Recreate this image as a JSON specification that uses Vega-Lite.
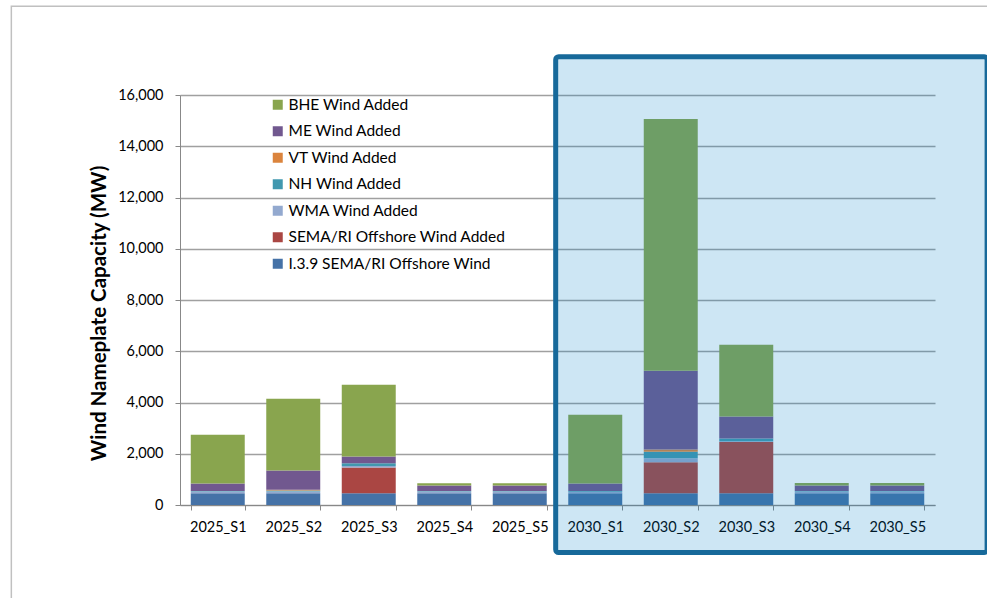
{
  "$schema": "https://vega.github.io/schema/vega-lite/v6.json",
  "width": 755,
  "height": 410,
  "autosize": {"type": "none"},
  "padding": {"left": 180, "top": 95, "right": 52, "bottom": 93},
  "background": "white",
  "config": {
    "font": "Lato",
    "view": {"stroke": null},
    "axisY": {"values": [0, 2000, 4000, 6000, 8000, 10000, 12000, 14000, 16000], "format": ",d", "grid": true, "gridColor": "#a0a0a0", "gridWidth": 1.3, "domainColor": "#888", "tickColor": "#888", "tickSize": 5, "labelFontSize": 14.5, "labelColor": "#000", "labelPadding": 12, "titleFontSize": 20.5, "titleFontWeight": "bold", "titleColor": "#000", "titleX": -81, "titleY": 218, "titleBaseline": "middle"}
  },
  "datasets": {
    "bars": [
      {"s": "2025_S1", "series": "I.3.9 SEMA/RI Offshore Wind", "k": 1, "mw": 460},
      {"s": "2025_S1", "series": "WMA Wind Added", "k": 3, "mw": 70},
      {"s": "2025_S1", "series": "NH Wind Added", "k": 4, "mw": 20},
      {"s": "2025_S1", "series": "ME Wind Added", "k": 6, "mw": 290},
      {"s": "2025_S1", "series": "BHE Wind Added", "k": 7, "mw": 1900},
      {"s": "2025_S2", "series": "I.3.9 SEMA/RI Offshore Wind", "k": 1, "mw": 460},
      {"s": "2025_S2", "series": "WMA Wind Added", "k": 3, "mw": 70},
      {"s": "2025_S2", "series": "NH Wind Added", "k": 4, "mw": 40},
      {"s": "2025_S2", "series": "VT Wind Added", "k": 5, "mw": 30},
      {"s": "2025_S2", "series": "ME Wind Added", "k": 6, "mw": 750},
      {"s": "2025_S2", "series": "BHE Wind Added", "k": 7, "mw": 2800},
      {"s": "2025_S3", "series": "I.3.9 SEMA/RI Offshore Wind", "k": 1, "mw": 460},
      {"s": "2025_S3", "series": "SEMA/RI Offshore Wind Added", "k": 2, "mw": 1000},
      {"s": "2025_S3", "series": "WMA Wind Added", "k": 3, "mw": 60},
      {"s": "2025_S3", "series": "NH Wind Added", "k": 4, "mw": 110},
      {"s": "2025_S3", "series": "ME Wind Added", "k": 6, "mw": 260},
      {"s": "2025_S3", "series": "BHE Wind Added", "k": 7, "mw": 2800},
      {"s": "2025_S4", "series": "I.3.9 SEMA/RI Offshore Wind", "k": 1, "mw": 460},
      {"s": "2025_S4", "series": "WMA Wind Added", "k": 3, "mw": 70},
      {"s": "2025_S4", "series": "NH Wind Added", "k": 4, "mw": 20},
      {"s": "2025_S4", "series": "ME Wind Added", "k": 6, "mw": 210},
      {"s": "2025_S4", "series": "BHE Wind Added", "k": 7, "mw": 90},
      {"s": "2025_S5", "series": "I.3.9 SEMA/RI Offshore Wind", "k": 1, "mw": 460},
      {"s": "2025_S5", "series": "WMA Wind Added", "k": 3, "mw": 70},
      {"s": "2025_S5", "series": "NH Wind Added", "k": 4, "mw": 20},
      {"s": "2025_S5", "series": "ME Wind Added", "k": 6, "mw": 210},
      {"s": "2025_S5", "series": "BHE Wind Added", "k": 7, "mw": 90},
      {"s": "2030_S1", "series": "I.3.9 SEMA/RI Offshore Wind", "k": 1, "mw": 460},
      {"s": "2030_S1", "series": "WMA Wind Added", "k": 3, "mw": 60},
      {"s": "2030_S1", "series": "NH Wind Added", "k": 4, "mw": 30},
      {"s": "2030_S1", "series": "ME Wind Added", "k": 6, "mw": 290},
      {"s": "2030_S1", "series": "BHE Wind Added", "k": 7, "mw": 2680},
      {"s": "2030_S2", "series": "I.3.9 SEMA/RI Offshore Wind", "k": 1, "mw": 460},
      {"s": "2030_S2", "series": "SEMA/RI Offshore Wind Added", "k": 2, "mw": 1210},
      {"s": "2030_S2", "series": "WMA Wind Added", "k": 3, "mw": 150},
      {"s": "2030_S2", "series": "NH Wind Added", "k": 4, "mw": 260},
      {"s": "2030_S2", "series": "VT Wind Added", "k": 5, "mw": 90},
      {"s": "2030_S2", "series": "ME Wind Added", "k": 6, "mw": 3070},
      {"s": "2030_S2", "series": "BHE Wind Added", "k": 7, "mw": 9820},
      {"s": "2030_S3", "series": "I.3.9 SEMA/RI Offshore Wind", "k": 1, "mw": 460},
      {"s": "2030_S3", "series": "SEMA/RI Offshore Wind Added", "k": 2, "mw": 2000},
      {"s": "2030_S3", "series": "WMA Wind Added", "k": 3, "mw": 30},
      {"s": "2030_S3", "series": "NH Wind Added", "k": 4, "mw": 110},
      {"s": "2030_S3", "series": "ME Wind Added", "k": 6, "mw": 850},
      {"s": "2030_S3", "series": "BHE Wind Added", "k": 7, "mw": 2800},
      {"s": "2030_S4", "series": "I.3.9 SEMA/RI Offshore Wind", "k": 1, "mw": 460},
      {"s": "2030_S4", "series": "WMA Wind Added", "k": 3, "mw": 70},
      {"s": "2030_S4", "series": "NH Wind Added", "k": 4, "mw": 20},
      {"s": "2030_S4", "series": "ME Wind Added", "k": 6, "mw": 210},
      {"s": "2030_S4", "series": "BHE Wind Added", "k": 7, "mw": 100},
      {"s": "2030_S5", "series": "I.3.9 SEMA/RI Offshore Wind", "k": 1, "mw": 460},
      {"s": "2030_S5", "series": "WMA Wind Added", "k": 3, "mw": 70},
      {"s": "2030_S5", "series": "NH Wind Added", "k": 4, "mw": 20},
      {"s": "2030_S5", "series": "ME Wind Added", "k": 6, "mw": 210},
      {"s": "2030_S5", "series": "BHE Wind Added", "k": 7, "mw": 100}
    ]
  },
  "layer": [
    {
      "data": {"values": [{"x0": -2.234, "x1": 11, "y0": 19460, "y1": -6000}]},
      "mark": {"type": "rect", "fill": "transparent", "stroke": "#c0c0c0", "strokeWidth": 1.5},
      "encoding": {
        "x": {"field": "x0", "type": "quantitative", "scale": {"domain": [0, 10], "nice": false, "zero": false}, "axis": null},
        "x2": {"field": "x1"},
        "y": {"field": "y0", "type": "quantitative", "scale": {"domain": [0, 16000], "nice": false}, "title": "Wind Nameplate Capacity (MW)"},
        "y2": {"field": "y1"}
      }
    },
    {
      "data": {"name": "bars"},
      "mark": {"type": "bar"},
      "encoding": {
        "x": {
          "field": "s", "type": "nominal", "sort": null,
          "scale": {"paddingInner": 0.285, "paddingOuter": 0.1425},
          "axis": {"title": null, "labelAngle": 0, "labelFontSize": 14.5, "labelColor": "#000", "tickBand": "extent", "ticks": true, "tickSize": 5, "tickColor": "#888", "domainColor": "#888", "labelPadding": 10, "grid": false}
        },
        "y": {
          "field": "mw", "type": "quantitative", "stack": "zero",
          "scale": {"domain": [0, 16000], "nice": false},
          "title": "Wind Nameplate Capacity (MW)"
        },
        "color": {
          "field": "series", "type": "nominal",
          "scale": {
            "domain": ["BHE Wind Added", "ME Wind Added", "VT Wind Added", "NH Wind Added", "WMA Wind Added", "SEMA/RI Offshore Wind Added", "I.3.9 SEMA/RI Offshore Wind"],
            "range": ["#89A54E", "#71588F", "#DB843D", "#4198AF", "#93A9CF", "#AA4643", "#4572A7"]
          },
          "legend": {"title": null, "orient": "none", "legendX": 90, "legendY": 2, "symbolType": "square", "symbolSize": 100, "symbolStrokeWidth": 0, "labelFontSize": 15.5, "labelLimit": 400, "labelColor": "#000", "rowPadding": 9.5, "padding": 0, "labelOffset": 3}
        },
        "order": {"field": "k", "type": "quantitative", "sort": "ascending"}
      }
    },
    {
      "data": {"values": [{"x0": 4.976, "x1": 10.69, "y0": 17495, "y1": -1854}]},
      "mark": {"type": "rect", "fill": "rgb(5,130,200)", "fillOpacity": 0.2, "stroke": "#17699a", "strokeWidth": 5, "cornerRadius": 3},
      "encoding": {
        "x": {"field": "x0", "type": "quantitative", "scale": {"domain": [0, 10], "nice": false, "zero": false}, "axis": null},
        "x2": {"field": "x1"},
        "y": {"field": "y0", "type": "quantitative", "scale": {"domain": [0, 16000], "nice": false}, "title": "Wind Nameplate Capacity (MW)"},
        "y2": {"field": "y1"}
      }
    }
  ],
  "resolve": {"scale": {"x": "independent"}}
}
